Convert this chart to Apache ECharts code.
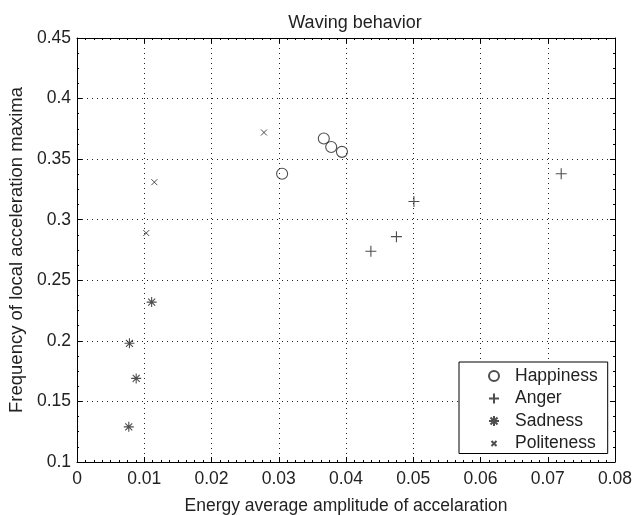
<!DOCTYPE html>
<html><head><meta charset="utf-8">
<script src="https://cdn.jsdelivr.net/npm/echarts@6/dist/echarts.min.js"></script>
<style>html,body{margin:0;padding:0;background:#fff}#c{width:636px;height:515px}</style>
</head><body><div id="c"></div>
<script>
const titleText = 'Waving behavior';
const xName = 'Energy average amplitude of accelaration';
const yName = 'Frequency of local acceleration maxima';
const seriesNames = ['Happiness', 'Anger', 'Sadness', 'Politeness'];
const happinessX = [0.0367, 0.0378, 0.0394, 0.0305];
const happinessY = [0.367, 0.360, 0.356, 0.338];
const angerX = [0.0720, 0.0501, 0.0475, 0.0437];
const angerY = [0.338, 0.315, 0.286, 0.274];
const sadnessX = [0.0111, 0.0078, 0.0088, 0.0077];
const sadnessY = [0.232, 0.198, 0.169, 0.129];
const politenessX = [0.0278, 0.0115, 0.0103];
const politenessY = [0.372, 0.331, 0.289];
const xTicks = [0, 0.01, 0.02, 0.03, 0.04, 0.05, 0.06, 0.07, 0.08];
const yTicks = [0.1, 0.15, 0.2, 0.25, 0.3, 0.35, 0.4, 0.45];

const pair = (xs, ys) => xs.map((v, i) => [v, ys[i]]);
const SYM_PLUS = 'path://M0,5L10,5M5,0L5,10';
const SYM_AST = 'path://M0,5L10,5M5,0L5,10M1.5,1.5L8.5,8.5M1.5,8.5L8.5,1.5';
const SYM_X = 'path://M0,0L10,10M0,10L10,0';
const SYM_X_LEGEND = 'path://M-5,-5L-5,-5M0,0L10,10M0,10L10,0M15,15L15,15';
const txt = '#222';
const font = 'Liberation Sans';
const fs = 17.5;

const chart = echarts.init(document.getElementById('c'), null, {renderer: 'canvas'});
const axisCommon = {
  axisLine: {show: true, onZero: false, lineStyle: {color: '#000', width: 1}},
  axisTick: {show: true, inside: true, length: 5, lineStyle: {color: '#000'}},
  minorTick: {show: false},
};
const fmt = v => String(+v.toFixed(4));
const option = {
  animation: false,
  backgroundColor: '#fff',
  title: {text: titleText, left: 350, textAlign: 'center', top: 9,
    textStyle: {fontFamily: font, fontSize: 18, fontWeight: 'normal', color: txt}},
  grid: {left: 77, right: 21, top: 38, bottom: 53, containLabel: false, outerBoundsMode: 'none'},
  legend: {
    orient: 'vertical', left: 459, top: 362,
    padding: [5, 10, 1, 29], itemGap: 4.5, itemWidth: 10, itemHeight: 10,
    borderColor: '#000', borderWidth: 1, backgroundColor: '#fff',
    textStyle: {fontFamily: font, fontSize: fs, color: txt, padding: [0, 0, 0, 11]},
    selectedMode: false,
    data: [
      {name: seriesNames[0]},
      {name: seriesNames[1]},
      {name: seriesNames[2]},
      {name: seriesNames[3], icon: SYM_X_LEGEND}
    ]
  },
  xAxis: [
    Object.assign({}, axisCommon, {
      type: 'value', min: 0, max: 0.08, interval: 0.01, position: 'bottom',
      name: xName, nameLocation: 'middle', nameGap: 35,
      nameTextStyle: {fontFamily: font, fontSize: fs, color: txt},
      axisLabel: {fontFamily: font, fontSize: fs, color: txt, margin: 8, formatter: fmt},
      splitLine: {show: true, lineStyle: {color: '#222', type: [1, 4], width: 1}},
      minorTick: {show: true, splitNumber: 8, length: 2, lineStyle: {color: '#000'}}
    }),
    Object.assign({}, axisCommon, {
      type: 'value', min: 0, max: 0.08, interval: 0.01, position: 'top',
      axisLabel: {show: false}, splitLine: {show: false},
      minorTick: {show: true, splitNumber: 8, length: 2, lineStyle: {color: '#000'}}
    })
  ],
  yAxis: [
    Object.assign({}, axisCommon, {
      type: 'value', min: 0.1, max: 0.45, interval: 0.05, position: 'left',
      name: yName, nameLocation: 'middle', nameGap: 50,
      nameTextStyle: {fontFamily: font, fontSize: 18.5, color: txt},
      axisLabel: {fontFamily: font, fontSize: fs, color: txt, margin: 6, formatter: fmt},
      splitLine: {show: true, lineStyle: {color: '#222', type: [1, 4], width: 1}},
      minorTick: {show: true, splitNumber: 4, length: 2, lineStyle: {color: '#000'}}
    }),
    Object.assign({}, axisCommon, {
      type: 'value', min: 0.1, max: 0.45, interval: 0.05, position: 'right',
      axisLabel: {show: false}, splitLine: {show: false},
      minorTick: {show: true, splitNumber: 4, length: 2, lineStyle: {color: '#000'}}
    })
  ],
  series: [
    {name: seriesNames[0], type: 'scatter', data: pair(happinessX, happinessY),
      symbol: 'circle', symbolSize: 11,
      itemStyle: {color: 'rgba(0,0,0,0)', borderColor: '#222', borderWidth: 1.1}},
    {name: seriesNames[1], type: 'scatter', data: pair(angerX, angerY),
      symbol: SYM_PLUS, symbolSize: 11,
      itemStyle: {color: 'rgba(0,0,0,0)', borderColor: '#222', borderWidth: 1.1}},
    {name: seriesNames[2], type: 'scatter', data: pair(sadnessX, sadnessY),
      symbol: SYM_AST, symbolSize: 10,
      itemStyle: {color: 'rgba(0,0,0,0)', borderColor: '#222', borderWidth: 1.1}},
    {name: seriesNames[3], type: 'scatter', data: pair(politenessX, politenessY),
      symbol: SYM_X, symbolSize: 6,
      itemStyle: {color: 'rgba(0,0,0,0)', borderColor: '#222', borderWidth: 1}}
  ].map(s => Object.assign(s, {emphasis: {disabled: true}}))
};
chart.setOption(option);
</script></body></html>
